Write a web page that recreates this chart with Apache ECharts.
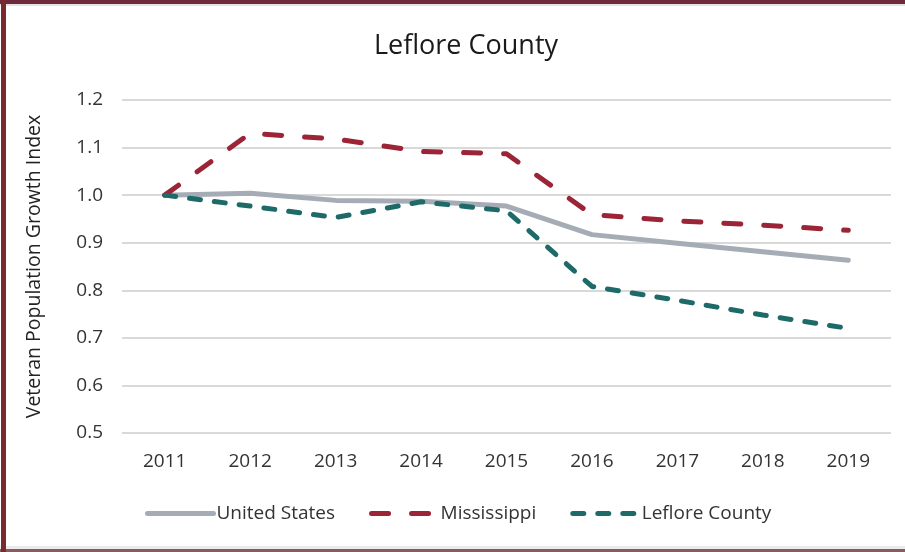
<!DOCTYPE html>
<html>
<head>
<meta charset="utf-8">
<script src="https://cdn.jsdelivr.net/npm/echarts@6/dist/echarts.min.js"></script>
<style>
html,body{margin:0;padding:0;background:#fff;}
#wrap{position:relative;width:905px;height:552px;overflow:hidden;}
#chart{position:absolute;left:0;top:0;width:905px;height:552px;}
#bt{position:absolute;left:0;top:0;width:905px;height:4px;background:#6e2a3d;}
#bt2{position:absolute;left:0;top:4px;width:905px;height:2px;background:#e4e2e3;}
#bl{position:absolute;left:1px;top:0;width:5px;height:552px;background:#7a2a2e;}
#bb{position:absolute;left:0;top:549px;width:905px;height:3px;background:#8a5a5e;}
#bb2{position:absolute;left:0;top:546px;width:905px;height:3px;background:#ecebeb;}
</style>
</head>
<body>
<div id="wrap">
<div id="chart"></div>
<div id="bt"></div><div id="bt2"></div><div id="bb2"></div><div id="bb"></div><div id="bl"></div>
</div>
<script>
const years = ['2011','2012','2013','2014','2015','2016','2017','2018','2019'];
const unitedStates = [1.000, 1.004, 0.989, 0.987, 0.977, 0.917, 0.899, 0.881, 0.863];
const mississippi = [1.000, 1.130, 1.118, 1.092, 1.087, 0.959, 0.946, 0.937, 0.926];
const leflore = [1.000, 0.977, 0.953, 0.986, 0.967, 0.808, 0.779, 0.748, 0.720];
const seriesNames = ['United States','Mississippi','Leflore County'];

const font = '"Open Sans", "Liberation Sans", sans-serif';
const chart = echarts.init(document.getElementById('chart'), null, {renderer:'canvas'});
chart.setOption({
  animation:false,
  title:{text:'Leflore County', left:461, textAlign:'center', top:28,
    textStyle:{fontFamily:font, fontSize:27, fontWeight:'normal', color:'#1a1a1a'}},
  grid:{left:122, right:14, top:100, bottom:119},
  xAxis:{type:'category', data:years, boundaryGap:true,
    axisLine:{show:false}, axisTick:{show:false},
    axisLabel:{fontFamily:font, fontSize:19, color:'#333', margin:19}},
  yAxis:{type:'value', min:0.5, max:1.2, interval:0.1,
    name:'Veteran Population Growth Index', nameLocation:'middle', nameGap:78,
    nameTextStyle:{fontFamily:font, fontSize:19.5, color:'#222'},
    axisLabel:{fontFamily:font, fontSize:19, color:'#333', margin:19,
      formatter:v=>v.toFixed(1)},
    splitLine:{lineStyle:{color:'#d9d9d9', width:2}}},
  legend:{bottom:24, left:140, itemWidth:66, itemHeight:12, itemGap:34,
    itemStyle:{opacity:0},
    lineStyle:{width:5, cap:'round'},
    textStyle:{fontFamily:font, fontSize:19, color:'#333', padding:[0,0,0,-2]},
    data:seriesNames},
  series:[
    {name:seriesNames[0], type:'line', data:unitedStates, symbol:'none', z:1,
      lineStyle:{color:'#a5acb5', width:5, cap:'round'}, itemStyle:{color:'#a5acb5'}},
    {name:seriesNames[1], type:'line', data:mississippi, symbol:'none', z:2,
      lineStyle:{color:'#9b2436', width:5, type:[17,23], cap:'round'}, itemStyle:{color:'#9b2436'}},
    {name:seriesNames[2], type:'line', data:leflore, symbol:'none', z:3,
      lineStyle:{color:'#1e6a68', width:5, type:[11,14], cap:'round'}, itemStyle:{color:'#1e6a68'}}
  ]
});
</script>
</body>
</html>
